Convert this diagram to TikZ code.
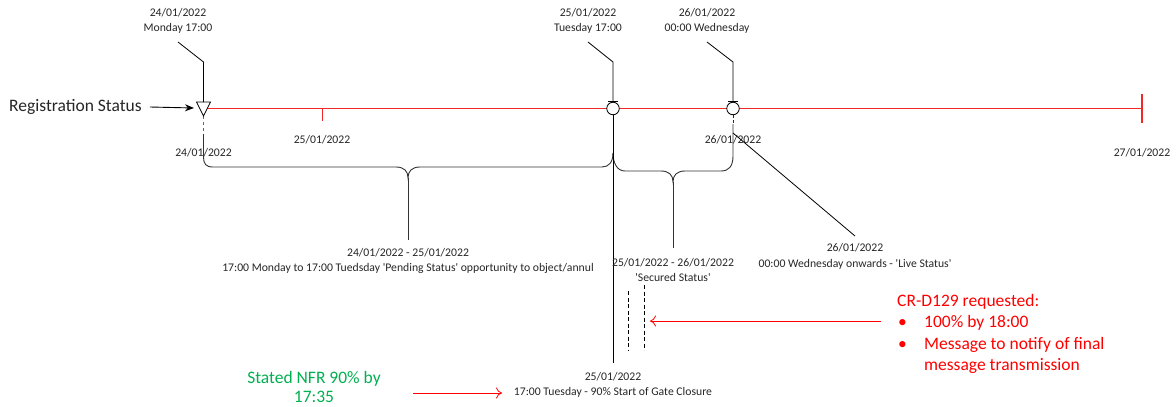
\documentclass[tikz,border=0pt]{standalone}
\usepackage{fontspec}
\setmainfont{Carlito}
\usetikzlibrary{arrows.meta}
\definecolor{tlred}{RGB}{240,40,40}
\definecolor{txtred}{RGB}{255,0,0}
\definecolor{nfrgreen}{RGB}{0,176,80}
\definecolor{txt}{RGB}{38,38,38}
\definecolor{darkred}{RGB}{140,0,0}
\begin{document}
\begin{tikzpicture}[x=1pt,y=-1pt,
  lbl/.style={font=\fontsize{11.7}{15}\selectfont, text=txt, inner sep=0pt, align=center},
  big/.style={font=\fontsize{17.5}{21.3}\selectfont, inner sep=0pt},
  conn/.style={draw=black, line width=0.8pt},
  bracepath/.style={draw=black!80, line width=0.9pt},
  tl/.style={draw=tlred, line width=1pt},
  redarrow/.style={draw=txtred, line width=0.8pt, -{To[length=6pt,width=11pt]}},
  marker/.style={draw=black, fill=white, line width=0.8pt},
]
\useasboundingbox (0,0) rectangle (1176,407);

% timeline
\coordinate (tlS) at (203.5,108);
\coordinate (tlE) at (1142,108);
\coordinate (endTop) at (1142,94);
\coordinate (endBot) at (1142,123);
\coordinate (tick25) at (322,108);
\coordinate (tick25b) at (322,121);
\draw[tl] (tlS) -- (tlE);
\draw[tl, line width=1.3pt] (endTop) -- (endBot);
\draw[tl] (tick25) -- (tick25b);

% date labels on the timeline
\node[lbl] (d24) at (203.5,153) {24/01/2022};
\node[lbl] (d25) at (322,140) {25/01/2022};
\node[lbl] (d26) at (733,140) {26/01/2022};
\node[lbl] (d27) at (1142,153) {27/01/2022};

% registration status
\node[big, text=txt, anchor=west] (rs) at (9,107) {Registration Status};
\coordinate (m1left) at (194,108);
\draw[line width=0.9pt, -{Stealth[length=9pt,width=7pt]}] ([xshift=8pt]rs.east) -- (m1left);

% top labels
\node[lbl] (t1) at (178,20.5) {24/01/2022\\Monday 17:00};
\node[lbl] (t2) at (588,20.5) {25/01/2022\\Tuesday 17:00};
\node[lbl] (t3) at (707,20.5) {26/01/2022\\00:00 Wednesday};

% brace 1
\draw[bracepath] (203.5,134) -- (203.5,157) .. controls (203.5,164) and (206,167) .. (213,167)
  -- (396,167) .. controls (404,167) and (408,171) .. (408,178)
  .. controls (408,171) and (412,167) .. (420,167)
  -- (602,167) .. controls (609,167) and (613,162) .. (613,153);
\coordinate (b1tip) at (408,178);
\coordinate (b1end) at (408,240);
\draw[bracepath] (b1tip) -- (b1end);

% brace 2
\draw[bracepath] (613,153) .. controls (613,163) and (617,171) .. (625,171)
  -- (661,171) .. controls (669,171) and (673,175) .. (673,182)
  .. controls (673,175) and (677,171) .. (685,171)
  -- (721,171) .. controls (729,171) and (733,166) .. (733,156) -- (733,124);
\coordinate (b2tip) at (673,182);
\coordinate (b2end) at (673,248);
\draw[bracepath] (b2tip) -- (b2end);

% marker 1 (triangle)
\coordinate (m1top) at (203.5,102);
\coordinate (m1bot) at (203.5,116);
\coordinate (m1dash) at (203.5,131);
\draw[tlred, dashed, dash pattern=on 3pt off 3pt, line width=0.8pt] (m1bot) -- (m1dash);
\draw[marker] (196.5,102) -- (210.5,102) -- (m1bot) -- cycle;
\coordinate (k1a) at (178,42);
\coordinate (k1b) at (203.5,62);
\draw[conn] (k1a) -- (k1b) -- (m1top);

% marker 2 (circle, 25/01 17:00)
\coordinate (k2a) at (588,42);
\coordinate (k2b) at (613,62);
\coordinate (k2c) at (613,101.5);
\coordinate (gateBot) at (613,363);
\draw[conn] (k2a) -- (k2b) -- (k2c);
\node[marker, circle, minimum size=12.5pt, inner sep=0pt] (m2) at (613,108.5) {};
\draw[conn, line width=1pt] (608,101.5) -- (618,101.5);
\draw[conn] (m2.south) -- (gateBot);

% marker 3 (circle, 26/01 00:00)
\coordinate (k3a) at (707,42);
\coordinate (k3b) at (733,62);
\coordinate (k3c) at (733,101.5);
\draw[conn] (k3a) -- (k3b) -- (k3c);
\node[marker, circle, minimum size=12.5pt, inner sep=0pt] (m3) at (733,108.5) {};
\draw[conn, line width=1pt] (728,101.5) -- (738,101.5);
\coordinate (m3dash) at (733,124);
\draw[darkred, dashed, dash pattern=on 3pt off 2pt, line width=0.8pt] (m3.south) -- (m3dash);
\coordinate (liveA) at (733,133);
\coordinate (liveB) at (855,236);
\draw[conn] (liveA) -- (liveB);

% period labels
\node[lbl] (lp) at (408,260.5) {24/01/2022 - 25/01/2022\\17:00 Monday to 17:00 Tuedsday \textquotesingle Pending Status\textquotesingle\ opportunity to object/annul};
\node[lbl] (ls) at (673,269.5) {25/01/2022 - 26/01/2022\\\textquotesingle Secured Status\textquotesingle};
\node[lbl, font=\fontsize{11.7}{16}\selectfont] (ll) at (855,256) {26/01/2022\\00:00 Wednesday onwards - \textquotesingle Live Status\textquotesingle};
\node[lbl] (lg) at (613,384.5) {25/01/2022\\17:00 Tuesday - 90\% Start of Gate Closure};

% dashed lines
\coordinate (da1) at (628,291);
\coordinate (da2) at (628,350);
\coordinate (db1) at (644,285);
\coordinate (db2) at (644,350);
\draw[conn, dash pattern=on 4pt off 2.5pt] (da1) -- (da2);
\draw[conn, dash pattern=on 4pt off 2.5pt] (db1) -- (db2);

% CR-D129
\node[big, text=txtred, anchor=base west] (cr) at (897,306.5) {\begin{tabular}[t]{@{}l@{}l@{}}
\multicolumn{2}{@{}l@{}}{CR-D129 requested:}\\
\makebox[27pt][l]{\hspace{1pt}•} & 100\% by 18:00\\
\makebox[27pt][l]{\hspace{1pt}•} & Message to notify of final\\
 & message transmission
\end{tabular}};
\coordinate (crA) at (881,321);
\coordinate (crB) at (650,321);
\draw[redarrow] (crA) -- (crB);

% NFR
\node[big, text=nfrgreen, align=center, font=\fontsize{17.5}{19}\selectfont] (nfr) at (314,387) {Stated NFR 90\% by\\17:35};
\coordinate (nfrA) at (413,393);
\coordinate (nfrB) at (502,393);
\draw[redarrow] (nfrA) -- (nfrB);
\end{tikzpicture}
\end{document}
